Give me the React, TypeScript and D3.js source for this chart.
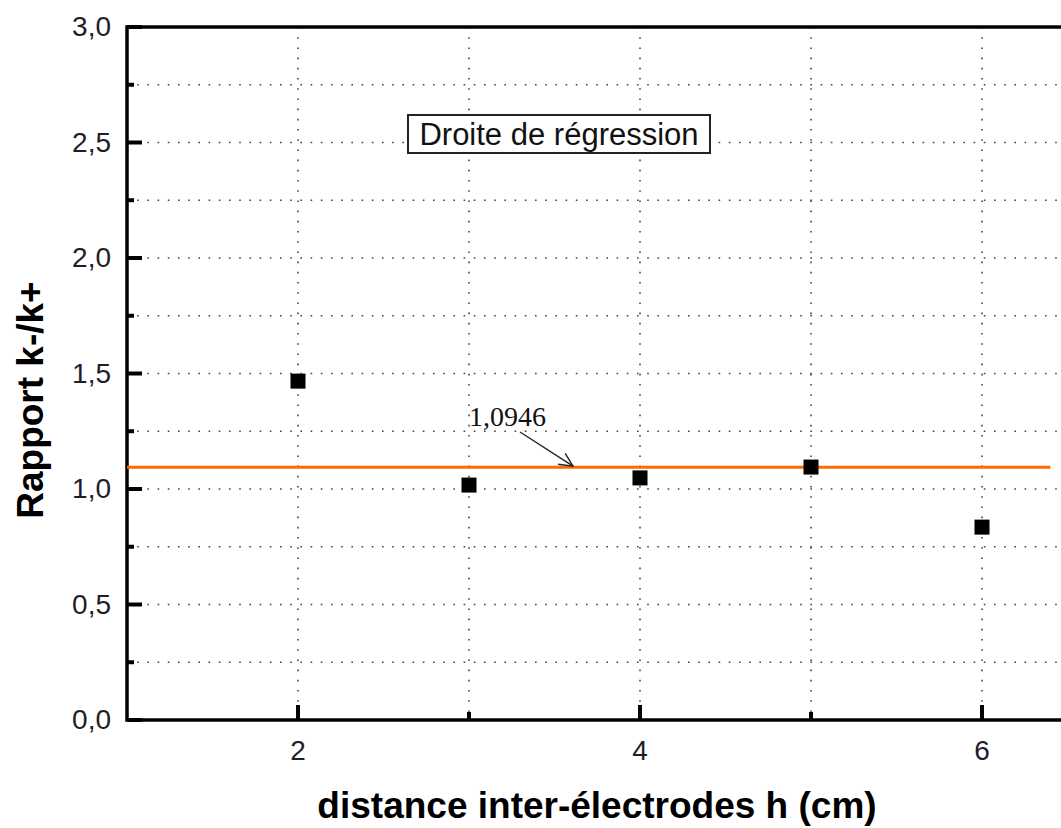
import React, { useEffect, useRef } from 'react'
import * as d3 from 'd3'

// mesures : rapport k-/k+ selon la distance inter-électrodes
const distances = [2, 3, 4, 5, 6]
const rapports = [1.467, 1.017, 1.048, 1.095, 0.835]
const regression = 1.0946
const xTicks = [2, 4, 6]
const xMinorTicks = [3, 5]
const yTicks = [0, 0.5, 1.0, 1.5, 2.0, 2.5, 3.0]
const yGrid = [0.25, 0.5, 0.75, 1.0, 1.25, 1.5, 1.75, 2.0, 2.25, 2.5, 2.75]

const W = 1061
const H = 828

export default function App () {
  const ref = useRef<SVGSVGElement>(null)

  useEffect(() => {
    const svg = d3.select(ref.current)
    svg.selectAll('*').remove()

    const left = 127
    const top = 27
    const bottom = 720

    const x = d3.scaleLinear().domain([1, 6.5]).range([left, left + 5.5 * 171])
    const y = d3.scaleLinear().domain([0, 3]).range([bottom, top])

    const g = svg.append('g')
    const font = 'Arial, "Liberation Sans", sans-serif'

    // grille pointillée
    g.selectAll('.hgrid')
      .data(yGrid)
      .enter()
      .append('line')
      .attr('x1', left)
      .attr('x2', W)
      .attr('y1', d => y(d))
      .attr('y2', d => y(d))
      .attr('stroke', '#444')
      .attr('stroke-width', 1.6)
      .attr('stroke-dasharray', '1.6,8.6')

    g.selectAll('.vgrid')
      .data(xTicks.concat(xMinorTicks))
      .enter()
      .append('line')
      .attr('x1', d => x(d))
      .attr('x2', d => x(d))
      .attr('y1', top)
      .attr('y2', bottom)
      .attr('stroke', '#444')
      .attr('stroke-width', 1.6)
      .attr('stroke-dasharray', '1.6,8.6')

    // axes
    g.append('path')
      .attr('d', `M${W},${top}H${left}V${bottom}H${W}`)
      .attr('fill', 'none')
      .attr('stroke', '#000')
      .attr('stroke-width', 3.5)

    // graduations y
    g.selectAll('.ytick')
      .data(d3.range(0, 3.01, 0.25))
      .enter()
      .append('line')
      .attr('x1', left)
      .attr('x2', (d, i) => left + (i % 2 === 0 ? 15 : 7))
      .attr('y1', d => y(d))
      .attr('y2', d => y(d))
      .attr('stroke', '#000')
      .attr('stroke-width', 4)

    g.selectAll('.ylab')
      .data(yTicks)
      .enter()
      .append('text')
      .attr('x', 111)
      .attr('y', d => y(d) + 9)
      .attr('text-anchor', 'end')
      .attr('font-family', font)
      .attr('font-size', 28)
      .attr('fill', '#1e1e2a')
      .text(d => d3.format('.1f')(d).replace('.', ','))

    // graduations x
    g.selectAll('.xtick')
      .data(xTicks)
      .enter()
      .append('line')
      .attr('x1', d => x(d))
      .attr('x2', d => x(d))
      .attr('y1', bottom)
      .attr('y2', bottom - 15)
      .attr('stroke', '#000')
      .attr('stroke-width', 4)

    g.selectAll('.xminor')
      .data(xMinorTicks)
      .enter()
      .append('line')
      .attr('x1', d => x(d))
      .attr('x2', d => x(d))
      .attr('y1', bottom)
      .attr('y2', bottom - 8)
      .attr('stroke', '#000')
      .attr('stroke-width', 4)

    g.selectAll('.xlab')
      .data(xTicks)
      .enter()
      .append('text')
      .attr('x', d => x(d))
      .attr('y', 760)
      .attr('text-anchor', 'middle')
      .attr('font-family', font)
      .attr('font-size', 28)
      .attr('fill', '#1e1e2a')
      .text(d => d)

    // titres
    g.append('text')
      .attr('x', 597)
      .attr('y', 818)
      .attr('text-anchor', 'middle')
      .attr('font-family', font)
      .attr('font-weight', 'bold')
      .attr('font-size', 37)
      .attr('fill', '#000')
      .text('distance inter-électrodes h (cm)')

    g.append('text')
      .attr('transform', `translate(43,400) rotate(-90)`)
      .attr('text-anchor', 'middle')
      .attr('font-family', font)
      .attr('font-weight', 'bold')
      .attr('font-size', 37)
      .attr('fill', '#000')
      .text('Rapport k-/k+')

    // droite de régression
    g.append('line')
      .attr('x1', left)
      .attr('x2', x(6.4))
      .attr('y1', y(regression))
      .attr('y2', y(regression))
      .attr('stroke', '#ff6a00')
      .attr('stroke-width', 3)

    // points
    g.selectAll('.pt')
      .data(distances)
      .enter()
      .append('rect')
      .attr('x', d => x(d) - 7.5)
      .attr('y', (d, i) => y(rapports[i]) - 7.5)
      .attr('width', 15)
      .attr('height', 15)
      .attr('fill', '#000')

    // annotation
    g.append('text')
      .attr('x', 469)
      .attr('y', 426)
      .attr('font-family', '"Liberation Serif", "Times New Roman", serif')
      .attr('font-size', 28)
      .attr('fill', '#111')
      .text('1,0946')

    const ax1 = 520
    const ay1 = 432
    const ax2 = 573
    const ay2 = y(regression) - 1
    const ang = Math.atan2(ay2 - ay1, ax2 - ax1)
    g.append('line')
      .attr('x1', ax1)
      .attr('y1', ay1)
      .attr('x2', ax2)
      .attr('y2', ay2)
      .attr('stroke', '#222')
      .attr('stroke-width', 1.4)
    const head = [ang + Math.PI - 0.45, ang + Math.PI + 0.45]
      .map(a => [ax2 + 15 * Math.cos(a), ay2 + 15 * Math.sin(a)])
    g.append('path')
      .attr('d', `M${head[0][0]},${head[0][1]}L${ax2},${ay2}L${head[1][0]},${head[1][1]}`)
      .attr('fill', 'none')
      .attr('stroke', '#222')
      .attr('stroke-width', 1.4)

    // légende
    g.append('rect')
      .attr('x', 408)
      .attr('y', 115)
      .attr('width', 302)
      .attr('height', 38)
      .attr('fill', '#fff')
      .attr('stroke', '#222')
      .attr('stroke-width', 2)
    g.append('text')
      .attr('x', 559)
      .attr('y', 145)
      .attr('text-anchor', 'middle')
      .attr('font-family', font)
      .attr('font-size', 31)
      .attr('fill', '#111')
      .text('Droite de régression')
  }, [])

  return (
    <svg ref={ref} width={W} height={H} style={{ position: 'absolute', left: 0, top: 0, background: '#fff' }} />
  )
}
